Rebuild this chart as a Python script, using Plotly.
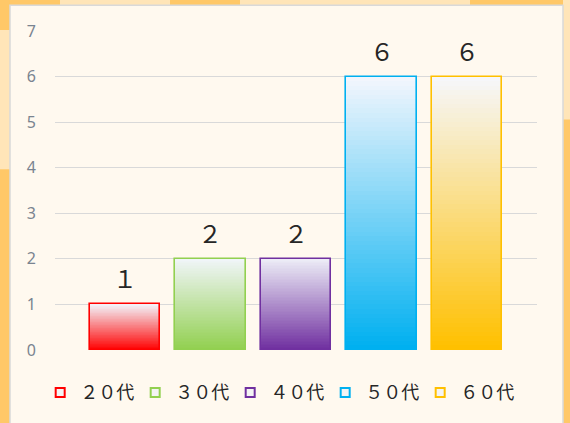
import plotly.graph_objects as go

categories = ["２０代", "３０代", "４０代", "５０代", "６０代"]
values = [1, 2, 2, 6, 6]
colors_bottom = ["#FF0000", "#92D050", "#7030A0", "#00B0F0", "#FFC000"]
colors_top = ["#F3F0F6", "#F0F5F8", "#ECECF6", "#F2F6FD", "#F6F7FA"]
y_ticks = [0, 1, 2, 3, 4, 5, 6, 7]

W_PX, H_PX = 570, 423
L, R, T, B = 55, 33, 31, 71
PW, PH = W_PX - L - R, H_PX - T - B


def px(x):
    return (x - L) / PW


def py(y):
    return (H_PX - B - y) / PH


def hex2rgb(h):
    h = h.lstrip("#")
    return tuple(int(h[i:i + 2], 16) for i in (0, 2, 4))


def mix(c1, c2, f):
    a, b = hex2rgb(c1), hex2rgb(c2)
    return "rgb(%d,%d,%d)" % tuple(round(a[i] + (b[i] - a[i]) * f) for i in range(3))


def fullwidth(s):
    return "".join(chr(ord(c) + 0xFEE0) if c.isdigit() else c for c in s)


xs = list(range(len(categories)))
BW = 0.82
N = 60

fig = go.Figure()

# gradient fill built from slices of each bar
sx, sbase, sy, scol = [], [], [], []
for i, v in enumerate(values):
    h = v / N
    for k in range(N):
        f = k / (N - 1)
        sx.append(xs[i])
        sbase.append(k * h)
        sy.append(min(1.6 * h, v - k * h))
        scol.append(mix(colors_bottom[i], colors_top[i], f))
fig.add_trace(go.Bar(x=sx, y=sy, base=sbase, width=BW,
                     marker=dict(color=scol, line=dict(width=0)),
                     showlegend=False, hoverinfo="skip"))

# outline
fig.add_trace(go.Bar(x=xs, y=values, width=BW,
                     marker=dict(color="rgba(0,0,0,0)",
                                 line=dict(color=colors_bottom, width=1.6)),
                     showlegend=False, hoverinfo="skip"))

# legend entries
for i, c in enumerate(categories):
    fig.add_trace(go.Scatter(x=[None], y=[None], mode="markers", name=c,
                             marker=dict(symbol="square", size=9, color="#F4F4F4",
                                         line=dict(color=colors_bottom[i], width=2))))

for i, v in enumerate(values):
    fig.add_annotation(x=xs[i], y=v, text=fullwidth(str(v)), showarrow=False,
                       yanchor="bottom", yshift=7,
                       font=dict(family="Noto Sans CJK JP", size=24, color="#262626"))

shapes = [
    dict(type="rect", xref="paper", yref="paper", x0=px(-20), x1=px(10), y0=py(30), y1=py(170),
         fillcolor="#FFE5B8", line=dict(width=0), layer="below"),
    dict(type="rect", xref="paper", yref="paper", x0=px(563), x1=px(600), y0=py(-10), y1=py(120),
         fillcolor="#FFE5B8", line=dict(width=0), layer="below"),
    dict(type="rect", xref="paper", yref="paper", x0=px(60), x1=px(170), y0=py(5), y1=py(-10),
         fillcolor="#FFE5B8", line=dict(width=0), layer="below"),
    dict(type="rect", xref="paper", yref="paper", x0=px(240), x1=px(470), y0=py(5), y1=py(-10),
         fillcolor="#FFE5B8", line=dict(width=0), layer="below"),
    dict(type="rect", xref="paper", yref="paper", x0=px(10), x1=px(563), y0=py(440), y1=py(5),
         fillcolor="#FFF9EF", line=dict(color="#D9D9D9", width=1.5), layer="below"),
]

fig.update_layout(
    width=W_PX, height=H_PX,
    margin=dict(l=L, r=R, t=T, b=B),
    paper_bgcolor="#FFC868",
    plot_bgcolor="rgba(0,0,0,0)",
    barmode="overlay",
    bargap=0,
    shapes=shapes,
    showlegend=True,
    legend=dict(orientation="h", x=0.462, xanchor="center", y=py(395), yanchor="middle",
                font=dict(family="Noto Sans CJK JP", size=18, color="#262626"),
                bgcolor="rgba(0,0,0,0)", itemwidth=30, itemclick=False,
                entrywidth=50, entrywidthmode="pixels"),
    xaxis=dict(range=[-0.818, 4.818], showticklabels=False, showgrid=False,
               zeroline=False, showline=False, fixedrange=True),
    yaxis=dict(range=[0, 7], tickvals=y_ticks, showgrid=True, gridcolor="#D9D9D9",
               gridwidth=1, zeroline=False, showline=False, ticklabelstandoff=18,
               fixedrange=True,
               tickfont=dict(family="Noto Sans", size=16, color="#7A8490")),
)

fig.write_html("out.html", config={"displayModeBar": False},
               post_script="document.body.style.margin='0';")
